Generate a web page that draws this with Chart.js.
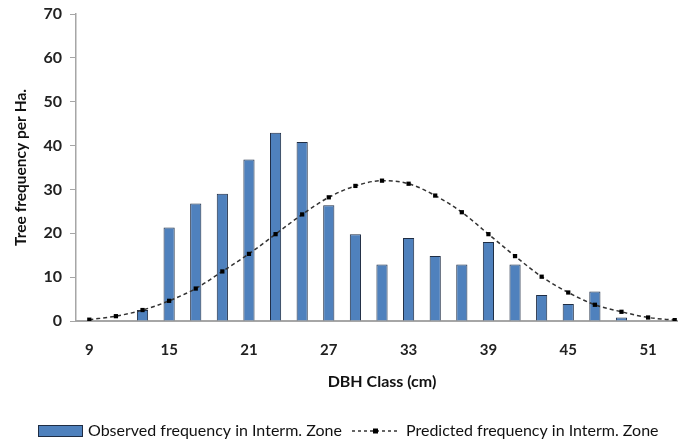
<!DOCTYPE html>
<html>
<head>
<meta charset="UTF-8">
<script src="https://cdn.jsdelivr.net/npm/chart.js@4.4.1/dist/chart.umd.min.js"></script>
<style>
  html, body { margin: 0; padding: 0; background: #fff; overflow: hidden; }
  #wrap { width: 678px; height: 443px; overflow: hidden; }
  #wrap div { width: 700px; height: 443px; position: relative; }
</style>
</head>
<body>
<div id="wrap"><div><canvas id="c"></canvas></div></div>
<script>
// DBH classes (cm)
const dbhClasses = ['9','11','13','15','17','19','21','23','25','27','29','31','33','35','37','39','41','43','45','47','49','51','53']
// observed frequency (bars)
const observed = [0, 0, 2.5, 21.3, 26.8, 29.0, 36.8, 42.9, 40.8, 26.4, 19.8, 12.9, 18.9, 14.8, 12.9, 18.0, 12.9, 5.9, 3.9, 6.7, 0.8, 0, 0]
// predicted frequency (dashed line)
const predicted = [0.3, 1.1, 2.5, 4.6, 7.4, 11.3, 15.3, 19.8, 24.3, 28.2, 30.8, 32.0, 31.3, 28.6, 24.8, 19.8, 14.8, 10.1, 6.5, 3.7, 2.1, 0.8, 0.2]
const yTicks = [0, 10, 20, 30, 40, 50, 60, 70]

const FONT = 'Lato, "Open Sans", sans-serif'
const BAR = '#4f81bd'

// legend drawn by hand so the line item can show dash + marker
const legendPlugin = {
  id: 'bottomLegend',
  afterDraw(chart) {
    const ctx = chart.ctx
    const y = 431
    ctx.save()
    ctx.font = '16px ' + FONT
    ctx.textBaseline = 'middle'
    // observed
    ctx.fillStyle = BAR
    ctx.fillRect(38, y - 6, 45, 12)
    ctx.strokeStyle = '#1f2d44'
    ctx.lineWidth = 1
    ctx.strokeRect(38.5, y - 5.5, 44, 11)
    ctx.fillStyle = '#111'
    ctx.fillText('Observed frequency in Interm. Zone', 88, y)
    // predicted
    ctx.strokeStyle = '#333'
    ctx.lineWidth = 1.5
    ctx.setLineDash([3, 3])
    ctx.beginPath()
    ctx.moveTo(352, y)
    ctx.lineTo(400, y)
    ctx.stroke()
    ctx.setLineDash([])
    ctx.fillStyle = '#000'
    ctx.fillRect(373, y - 2.5, 5, 5)
    ctx.fillStyle = '#111'
    ctx.fillText('Predicted frequency in Interm. Zone', 406, y)
    ctx.restore()
  }
}

new Chart(document.getElementById('c'), {
  data: {
    labels: dbhClasses,
    datasets: [
      {
        type: 'line',
        label: 'Predicted frequency in Interm. Zone',
        data: predicted,
        borderColor: '#333',
        borderWidth: 1.5,
        borderDash: [4, 3],
        pointStyle: 'rect',
        pointRadius: 3,
        pointBackgroundColor: '#000',
        pointBorderColor: '#000',
        pointBorderWidth: 0,
        cubicInterpolationMode: 'monotone',
        order: 0
      },
      {
        type: 'bar',
        label: 'Observed frequency in Interm. Zone',
        data: observed,
        backgroundColor: BAR,
        borderColor: '#1f2d44',
        borderWidth: 1,
        categoryPercentage: 1,
        barPercentage: 0.42,
        order: 1
      }
    ]
  },
  options: {
    responsive: true,
    maintainAspectRatio: false,
    animation: false,
    layout: { padding: { top: 14, right: 12, left: 0, bottom: 52 } },
    plugins: { legend: { display: false }, tooltip: { enabled: false } },
    scales: {
      x: {
        offset: true,
        grid: { display: false, drawTicks: false },
        border: { color: '#a6a6a6', width: 2 },
        ticks: {
          autoSkip: false, maxRotation: 0, padding: 20,
          color: '#222', font: { family: FONT, size: 15, weight: 'bold' },
          callback: (v, i) => (i % 3 === 0 ? dbhClasses[i] : '')
        },
        title: {
          display: true, text: 'DBH Class (cm)', color: '#111',
          font: { family: FONT, size: 16, weight: 'bold' }, padding: { top: 0, bottom: 0 }
        },
        afterFit: s => { s.height = 70 }
      },
      y: {
        min: 0, max: 70,
        afterBuildTicks: s => { s.ticks = yTicks.map(v => ({ value: v })) },
        grid: { drawOnChartArea: false, tickLength: 6, color: '#a6a6a6' },
        border: { color: '#a6a6a6', width: 1.5 },
        ticks: { padding: 8, color: '#222', font: { family: FONT, size: 16, weight: 'bold', lineHeight: 0.6 } },
        title: {
          display: true, text: 'Tree frequency per Ha.', color: '#111',
          font: { family: FONT, size: 15.5, weight: 'bold' },
          padding: { top: 12, bottom: 4 }
        },
        afterFit: s => { s.width = 76 }
      }
    }
  },
  plugins: [legendPlugin]
})
</script>
</body>
</html>
